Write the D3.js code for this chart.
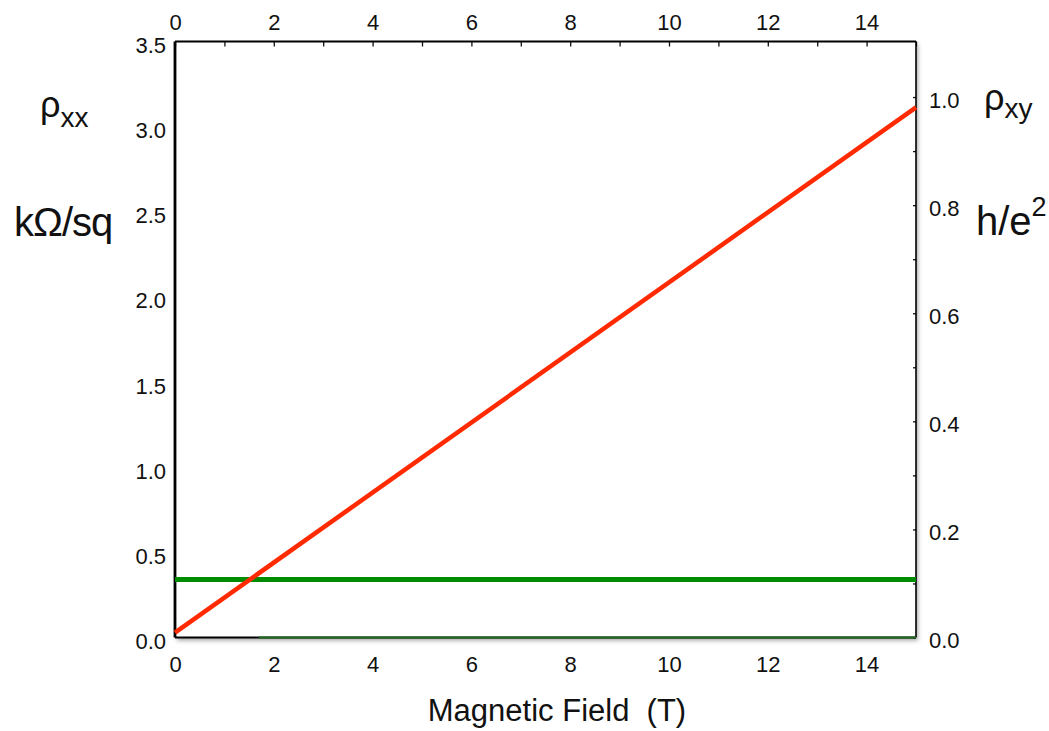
<!DOCTYPE html>
<html>
<head>
<meta charset="utf-8">
<script src="https://cdn.jsdelivr.net/npm/d3@7"></script>
<style>
  html, body { margin: 0; padding: 0; background: #fff; }
  svg text { font-family: "Liberation Sans", Arial, sans-serif; fill: #111; white-space: pre; }
</style>
</head>
<body>
<div id="chart"></div>
<script>
// data
const field = [0, 15];                 // magnetic field (T)
const rhoXY = [0.009, 0.981];          // Hall resistivity, h/e^2 (right axis)
const rhoXX = [0.34, 0.34];            // longitudinal resistivity, kOhm/sq (left axis)
const lowField = [1.7, 15];            // faint rho_xx trace lying on the zero line
const lowRhoXX = [0, 0];
const fieldTicks = [0, 2, 4, 6, 8, 10, 12, 14];
const leftTicks = [0, 0.5, 1, 1.5, 2, 2.5, 3, 3.5];
const rightTicks = [0, 0.2, 0.4, 0.6, 0.8, 1.0];
const rightMinor = d3.range(0, 11).map(i => i / 10);

const width = 1049, height = 731;
const marginLeft = 175, marginRight = 133, marginTop = 41.5, marginBottom = 93.5;

const x = d3.scaleLinear().domain([0, 15]).range([marginLeft, width - marginRight]);
const yL = d3.scaleLinear().domain([0, 3.5]).range([height - marginBottom, marginTop]);
const yR = d3.scaleLinear().domain([0, 1.1028]).range([height - marginBottom, marginTop]);

const svg = d3.select("#chart").append("svg")
  .attr("width", width).attr("height", height)
  .attr("viewBox", [0, 0, width, height]);

const defs = svg.append("defs");
const f = defs.append("filter").attr("id", "shadow")
  .attr("x", "-5%").attr("y", "-5%").attr("width", "110%").attr("height", "110%");
f.append("feDropShadow").attr("dx", 2).attr("dy", 3).attr("stdDeviation", 2)
  .attr("flood-color", "#000").attr("flood-opacity", 0.35);

// frame with soft shadow
svg.append("rect")
  .attr("x", x(0)).attr("y", yL(3.5))
  .attr("width", x(15) - x(0)).attr("height", yL(0) - yL(3.5))
  .attr("fill", "#fff").attr("filter", "url(#shadow)");

// top axis: inward ticks every 1 T, labels every 2
svg.append("g")
  .attr("transform", `translate(0,${marginTop})`)
  .call(d3.axisTop(x).tickValues(d3.range(0, 16)).tickSize(-5).tickFormat(""))
  .call(g => g.select(".domain").remove())
  .call(g => g.selectAll(".tick line").attr("stroke", "#111").attr("stroke-width", 1.3));
svg.append("g")
  .attr("transform", `translate(0,${marginTop})`)
  .call(d3.axisTop(x).tickValues(fieldTicks).tickSize(0).tickPadding(12).tickFormat(d3.format("d")))
  .call(g => g.select(".domain").remove())
  .call(g => g.selectAll("text").attr("font-size", 22));

// bottom axis labels
svg.append("g")
  .attr("transform", `translate(0,${height - marginBottom})`)
  .call(d3.axisBottom(x).tickValues(fieldTicks).tickSize(0).tickPadding(19).tickFormat(d3.format("d")))
  .call(g => g.select(".domain").remove())
  .call(g => g.selectAll("text").attr("font-size", 22));

// left axis labels
svg.append("g")
  .attr("transform", `translate(${marginLeft},0)`)
  .call(d3.axisLeft(yL).tickValues(leftTicks).tickSize(0).tickPadding(9).tickFormat(d3.format(".1f")))
  .call(g => g.select(".domain").remove())
  .call(g => g.selectAll("text").attr("font-size", 22).attr("y", 4));

// right axis: small inward minor ticks, labels every 0.2
svg.append("g")
  .attr("transform", `translate(${width - marginRight},0)`)
  .call(d3.axisRight(yR).tickValues(rightMinor).tickSize(-3).tickFormat(""))
  .call(g => g.select(".domain").remove())
  .call(g => g.selectAll(".tick line").attr("stroke", "#111").attr("stroke-width", 1.3));
svg.append("g")
  .attr("transform", `translate(${width - marginRight},0)`)
  .call(d3.axisRight(yR).tickValues(rightTicks).tickSize(0).tickPadding(13).tickFormat(d3.format(".1f")))
  .call(g => g.select(".domain").remove())
  .call(g => g.selectAll("text").attr("font-size", 22).attr("y", 3));

// frame lines
const frame = svg.append("g").attr("stroke", "#000").attr("fill", "none");
frame.append("line").attr("x1", x(0)).attr("x2", x(0)).attr("y1", yL(3.5)).attr("y2", yL(0)).attr("stroke-width", 2.8);
frame.append("line").attr("x1", x(0)).attr("x2", x(15)).attr("y1", yL(3.5)).attr("y2", yL(3.5)).attr("stroke-width", 2);
frame.append("line").attr("x1", x(15)).attr("x2", x(15)).attr("y1", yL(3.5)).attr("y2", yL(0)).attr("stroke-width", 1.6);
frame.append("line").attr("x1", x(0)).attr("x2", x(15)).attr("y1", yL(0)).attr("y2", yL(0)).attr("stroke-width", 2.2);

// data lines
const low = lowField.map((b, i) => ({ b, v: lowRhoXX[i] }));
svg.append("path").datum(low)
  .attr("fill", "none").attr("stroke", "#1f6b1f").attr("stroke-width", 2)
  .attr("d", d3.line().x(d => x(d.b)).y(d => yL(d.v)));

const pts = field.map((b, i) => ({ b, xx: rhoXX[i], xy: rhoXY[i] }));
svg.append("path").datum(pts)
  .attr("fill", "none").attr("stroke", "#008c00").attr("stroke-width", 5)
  .attr("d", d3.line().x(d => x(d.b)).y(d => yL(d.xx)));
svg.append("path").datum(pts)
  .attr("fill", "none").attr("stroke", "#ff2a00").attr("stroke-width", 4.5)
  .attr("d", d3.line().x(d => x(d.b)).y(d => yR(d.xy)));

// axis titles
const rl = svg.append("text").attr("x", 40).attr("y", 117);
rl.append("tspan").attr("font-size", 36).text("ρ");
rl.append("tspan").attr("font-size", 28).attr("dy", 10).text("xx");
svg.append("text").attr("x", 14).attr("y", 236).attr("font-size", 40)
  .attr("letter-spacing", -1).text("kΩ/sq");

const rr = svg.append("text").attr("x", 984).attr("y", 110);
rr.append("tspan").attr("font-size", 36).text("ρ");
rr.append("tspan").attr("font-size", 28).attr("dy", 8).text("xy");
const he = svg.append("text").attr("x", 976).attr("y", 235).attr("font-size", 40);
he.append("tspan").text("h/e");
he.append("tspan").attr("font-size", 27).attr("dy", -19).text("2");

svg.append("text").attr("x", 557).attr("y", 721).attr("text-anchor", "middle")
  .attr("font-size", 31).text("Magnetic Field  (T)");
</script>
</body>
</html>
